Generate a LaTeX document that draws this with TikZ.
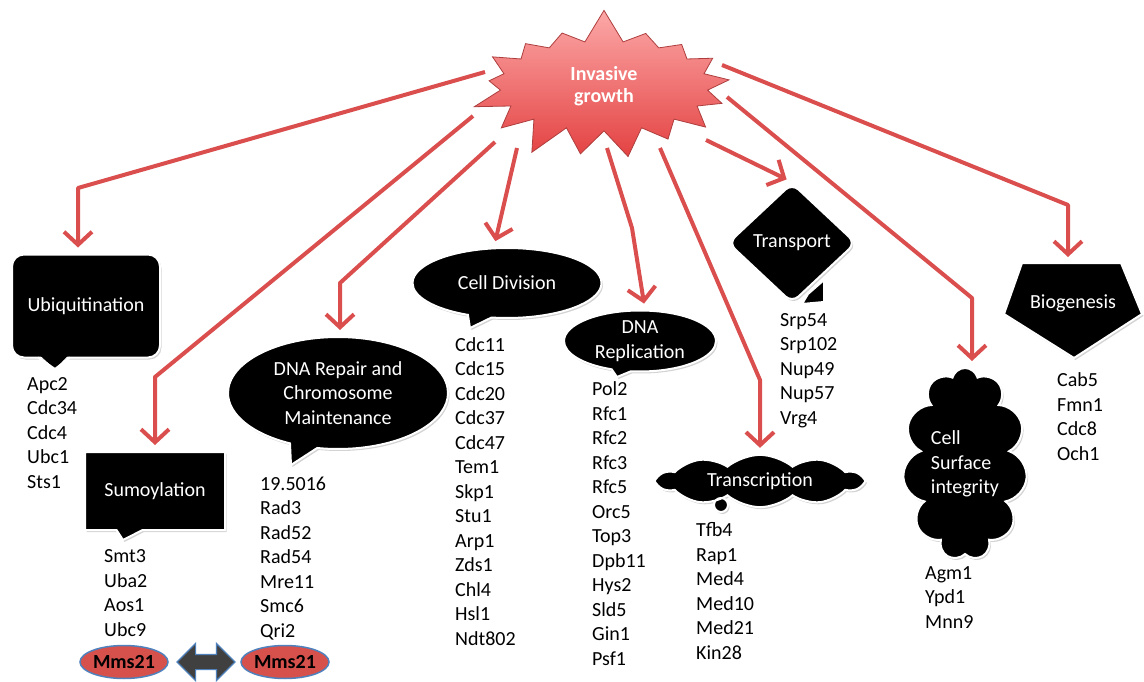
\documentclass[tikz,border=0pt]{standalone}
\usepackage{fontspec}
\setmainfont{Carlito}
\usetikzlibrary{shapes.geometric, shapes.symbols, shapes.callouts, shapes.arrows, arrows.meta, calc, shadows}
\definecolor{flowred}{RGB}{218,78,78}
\definecolor{starlight}{RGB}{252,168,168}
\definecolor{stardark}{RGB}{228,66,66}
\definecolor{mmsred}{RGB}{214,80,76}
\definecolor{mmsblue}{RGB}{79,129,189}
\definecolor{dblgray}{RGB}{64,64,64}

\begin{document}
\begin{tikzpicture}[x=1pt, y=-1pt,
  every node/.style={font=\fontsize{20}{24.5}\selectfont},
  flow/.style={draw=flowred, line width=4pt, -{Straight Barb[length=13pt, width=28pt, line width=4pt]}, shorten >=6pt, line join=round},
  topic/.style={fill=black, draw=white, line width=2pt, text=white, align=center, drop shadow={shadow xshift=1.5pt, shadow yshift=-2pt, opacity=0.35}},
  genes/.style={anchor=base west, align=left, inner sep=0pt},
  mms/.style={ellipse, fill=mmsred, draw=mmsblue, line width=1.5pt, minimum width=88pt, minimum height=33pt, inner sep=0pt, font=\fontsize{20}{24}\selectfont\bfseries}
]
  \useasboundingbox (0,0) rectangle (1144,682);

  % Root
  \node[starburst, starburst points=17, starburst point height=34pt, random starburst=7, inner xsep=40pt, inner ysep=12pt, top color=starlight, bottom color=stardark, draw=flowred!80!black, line width=0.8pt, text=white, align=center, font=\fontsize{20}{22}\selectfont\bfseries] (root) at (604,86) {Invasive\\growth};

  % Topics
  \node[topic, rectangle, rounded corners=12pt, minimum width=148pt, minimum height=103pt] (ubiq) at (86,306) {Ubiquitination};
  \fill[black] ($(ubiq.south)+(-47,-4)$) -- (55,369) -- ($(ubiq.south)+(-17,-4)$) -- cycle;
  \draw[white, line width=2pt, line join=round] ($(ubiq.south)+(-48,-1)$) -- (55,369) -- ($(ubiq.south)+(-16,-1)$);
  \node[topic, rectangle callout, minimum width=140pt, minimum height=78pt, callout absolute pointer={(123,540)}, callout pointer width=26pt] (sumo) at (155,491) {Sumoylation};
  \node[topic, ellipse callout, inner sep=0pt, minimum width=220pt, minimum height=112pt, callout absolute pointer={(291,465)}] (repair) at (338,393) {DNA Repair and\\Chromosome\\Maintenance};
  \node[topic, ellipse callout, inner sep=0pt, minimum width=189pt, minimum height=70pt, callout absolute pointer={(470,328)}] (cdiv) at (507,283) {Cell Division};
  \node[topic, ellipse callout, inner sep=0pt, minimum width=152pt, minimum height=61pt, callout absolute pointer={(617,377)}] (rep) at (640,341) {DNA\\Replication};
  \fill[black, draw=white, line width=2pt] (808,294) -- (824,280) -- (824,302) -- (802,304) -- cycle;
  \node[topic, diamond, aspect=1.07, minimum width=128pt, minimum height=120pt, rounded corners=9pt, inner sep=0pt] (transp) at (792,243) {Transport};
  \node[topic, cloud callout, cloud puffs=10, cloud puff arc=80, aspect=4, inner sep=0pt, minimum width=204pt, minimum height=50pt, callout absolute pointer={(721,505)}, callout pointer segments=1, callout pointer start size=26pt and 14pt, callout pointer end size=26pt and 14pt] (trans) at (760,481) {Transcription};
  \node[topic, cloud, cloud puffs=11, aspect=0.65, inner sep=0pt, minimum width=124pt, minimum height=192pt, align=left] (surf) at (965,464) {Cell\\Surface\\integrity};
  \filldraw[topic] (1022,263) -- (1121,263) -- (1142,314) -- (1074,358) -- (1004,314) -- cycle;
  \node[text=white] (biog) at (1073,303) {Biogenesis};
  \coordinate (biogtop) at (1068,263);

  % Connectors
  \coordinate (s1) at (485,72);  \coordinate (b1) at (78,188);
  \coordinate (s2) at (473,116); \coordinate (b2) at (155,377);
  \coordinate (s3) at (495,142); \coordinate (b3) at (340,283);
  \coordinate (s4) at (517,148);
  \coordinate (s5) at (607,148); \coordinate (b5) at (632,228);
  \coordinate (s6) at (660,148); \coordinate (b6) at (760,380);
  \coordinate (s7) at (706,140);
  \coordinate (s8) at (727,97);  \coordinate (b8) at (972,298);
  \coordinate (s9) at (722,65);  \coordinate (b9) at (1068,205);
  \draw[flow] (s1) -- (b1) -- (b1 |- ubiq.north);
  \draw[flow] (s2) -- (b2) -- (b2 |- sumo.north);
  \draw[flow] (s3) -- (b3) -- (b3 |- repair.north);
  \draw[flow] (s4) -- ($(cdiv.north)+(-13,0)$);
  \draw[flow] (s5) -- (b5) -- ($(rep.north)+(5,0)$);
  \draw[flow] (s6) -- (b6) -- (b6 |- trans.north);
  \draw[flow] (s7) -- (transp.north);
  \draw[flow] (s8) -- (b8) -- (b8 |- surf.north);
  \draw[flow] (s9) -- (b9) -- (biogtop);

  % Gene lists (anchored at the baseline of the last line)
  \node[genes] (ubiqgenes) at (27,488) {Apc2\\Cdc34\\Cdc4\\Ubc1\\Sts1};
  \node[genes] (sumogenes) at (104,636) {Smt3\\Uba2\\Aos1\\Ubc9};
  \node[genes] (repairgenes) at (260,637) {19.5016\\Rad3\\Rad52\\Rad54\\Mre11\\Smc6\\Qri2};
  \node[genes] (cdivgenes) at (455,645) {Cdc11\\Cdc15\\Cdc20\\Cdc37\\Cdc47\\Tem1\\Skp1\\Stu1\\Arp1\\Zds1\\Chl4\\Hsl1\\Ndt802};
  \node[genes] (repgenes) at (592,665) {Pol2\\Rfc1\\Rfc2\\Rfc3\\Rfc5\\Orc5\\Top3\\Dpb11\\Hys2\\Sld5\\Gin1\\Psf1};
  \node[genes] (transgenes) at (696,659) {Tfb4\\Rap1\\Med4\\Med10\\Med21\\Kin28};
  \node[genes] (transpgenes) at (780,424) {Srp54\\Srp102\\Nup49\\Nup57\\Vrg4};
  \node[genes] (surfgenes) at (925,628) {Agm1\\Ypd1\\Mnn9};
  \node[genes] (biogenes) at (1057,460) {Cab5\\Fmn1\\Cdc8\\Och1};

  % Mms21 link
  \node[mms] (mmsa) at (124,662) {Mms21};
  \node[mms] (mmsb) at (285,662) {Mms21};
  \node[double arrow, fill=dblgray, draw=mmsblue, line width=1.2pt, minimum width=37pt, minimum height=58pt, double arrow head extend=11pt, inner xsep=0pt, inner ysep=7pt] (link) at (206,662) {};
\end{tikzpicture}
\end{document}
